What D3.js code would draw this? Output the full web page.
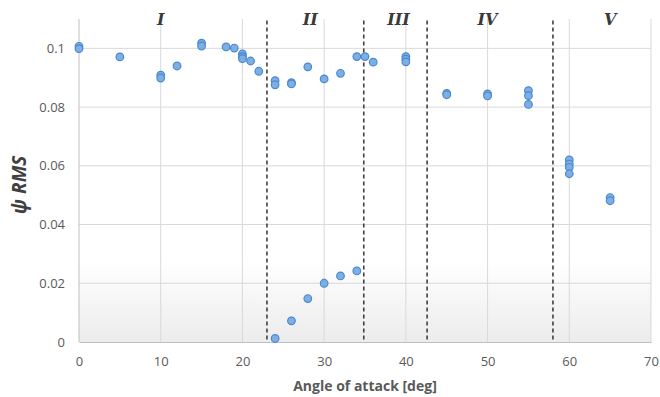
<!DOCTYPE html>
<html>
<head>
<meta charset="utf-8">
<script src="https://d3js.org/d3.v7.min.js"></script>
<style>
  body { margin: 0; background: #fff; }
  text { font-family: "Open Sans", "Liberation Sans", sans-serif; }
</style>
</head>
<body>
<svg id="main_canvas" width="660" height="397"></svg>
<script>
    // angle of attack vs psi RMS
    const angles = [0, 0, 5, 10, 10, 12, 15, 15, 18, 19, 20, 20, 20, 21, 22, 24, 24, 26, 26, 28, 30, 32, 34, 35, 36,
                    40, 40, 40, 45, 45, 50, 50, 55, 55, 55, 60, 60, 60, 60, 65, 65,
                    24, 26, 28, 30, 32, 34];
    const psiRms = [0.1007, 0.0999, 0.0971, 0.0909, 0.0899, 0.0940, 0.1018, 0.1008, 0.1005, 0.1001, 0.0981, 0.0972, 0.0965, 0.0957, 0.0922, 0.0890, 0.0876, 0.0883, 0.0879, 0.0937, 0.0896, 0.0915, 0.0972, 0.0972, 0.0953,
                    0.0972, 0.0963, 0.0954, 0.0847, 0.0842, 0.0845, 0.0838, 0.0856, 0.0839, 0.0809, 0.0620, 0.0606, 0.0595, 0.0573, 0.0492, 0.0481,
                    0.0012, 0.0072, 0.0148, 0.0200, 0.0225, 0.0242];

    const xTicks = [0, 10, 20, 30, 40, 50, 60, 70];
    const yTicks = [0, 0.02, 0.04, 0.06, 0.08, 0.1];

    // regime boundaries and their labels
    const boundaries = [23, 34.85, 42.6, 58];
    const regimeNames = ["I", "II", "III", "IV", "V"];
    const regimeCentres = [10, 28.3, 39.1, 50, 65];

    const margins = { left: 79, right: 9, top: 19, bottom: 55 };
    const W = 660, H = 397;

    const svg = d3.select("#main_canvas");

    const x = d3.scaleLinear().domain([0, 70]).range([margins.left, W - margins.right]);
    const y = d3.scaleLinear().domain([0, 0.11]).range([H - margins.bottom, margins.top]);

    // faint gradient near the bottom of the plot area
    const grad = svg.append("defs").append("linearGradient")
        .attr("id", "band").attr("x1", 0).attr("y1", 0).attr("x2", 0).attr("y2", 1);
    grad.append("stop").attr("offset", "0%").attr("stop-color", "#ffffff");
    grad.append("stop").attr("offset", "100%").attr("stop-color", "#ececec");
    svg.append("rect")
        .attr("x", x(0)).attr("y", y(0.028))
        .attr("width", x(70) - x(0)).attr("height", y(0) - y(0.028))
        .attr("fill", "url(#band)");

    // gridlines
    svg.append("g")
        .selectAll("line")
        .data(yTicks.slice(1))
        .join("line")
        .attr("x1", x(0)).attr("x2", x(70))
        .attr("y1", d => y(d)).attr("y2", d => y(d))
        .attr("stroke", "#d9d9d9").attr("stroke-width", 1);
    svg.append("g")
        .selectAll("line")
        .data(xTicks.slice(1))
        .join("line")
        .attr("x1", d => x(d)).attr("x2", d => x(d))
        .attr("y1", y(0.11)).attr("y2", y(0))
        .attr("stroke", "#d9d9d9").attr("stroke-width", 1);

    // axes
    const xAxis = svg.append("g")
        .attr("transform", `translate(0,${y(0)})`)
        .call(d3.axisBottom(x).tickValues(xTicks).tickSize(0).tickPadding(15));
    xAxis.select(".domain").attr("stroke", "#bfbfbf");
    xAxis.selectAll("text").attr("font-size", 13).attr("fill", "#595959");

    const yAxis = svg.append("g")
        .attr("transform", `translate(${x(0)},0)`)
        .call(d3.axisLeft(y).tickValues(yTicks).tickSize(0).tickPadding(14)
            .tickFormat(d => d === 0 ? "0" : String(+d.toFixed(2))));
    yAxis.select(".domain").attr("stroke", "#bfbfbf").attr("d", `M0,${y(0.11)}V${y(0)}`);
    yAxis.selectAll("text").attr("font-size", 13).attr("fill", "#595959");

    // regime boundary lines
    svg.append("g")
        .selectAll("line")
        .data(boundaries)
        .join("line")
        .attr("x1", d => x(d)).attr("x2", d => x(d))
        .attr("y1", y(0.1095)).attr("y2", y(0))
        .attr("stroke", "#404040").attr("stroke-width", 1.6)
        .attr("stroke-dasharray", "4,3");

    // regime labels
    svg.append("g")
        .selectAll("text")
        .data(regimeNames)
        .join("text")
        .attr("x", (d, i) => x(regimeCentres[i]))
        .attr("y", 25)
        .attr("text-anchor", "middle")
        .style("font-family", "'DejaVu Serif', serif")
        .style("font-weight", "bold")
        .style("font-style", "italic")
        .attr("font-size", 16)
        .attr("fill", "#3a3a3a")
        .text(d => d);

    // points
    svg.append("g")
        .selectAll("circle")
        .data(angles)
        .join("circle")
        .attr("cx", d => x(d))
        .attr("cy", (d, i) => y(psiRms[i]))
        .attr("r", 3.8)
        .attr("fill", "#7eafe2")
        .attr("stroke", "#4a88d2")
        .attr("stroke-width", 1.2);

    // axis titles
    svg.append("text")
        .attr("x", x(35)).attr("y", 391)
        .attr("text-anchor", "middle")
        .attr("font-size", 14).attr("font-weight", "bold")
        .attr("fill", "#595959")
        .text("Angle of attack [deg]");

    svg.append("text")
        .attr("transform", `translate(26,${y(0.0535)}) rotate(-90)`)
        .attr("text-anchor", "middle")
        .attr("font-size", 19).attr("font-weight", "bold").attr("font-style", "italic")
        .attr("fill", "#404040")
        .text("ψ RMS");
</script>
</body>
</html>
